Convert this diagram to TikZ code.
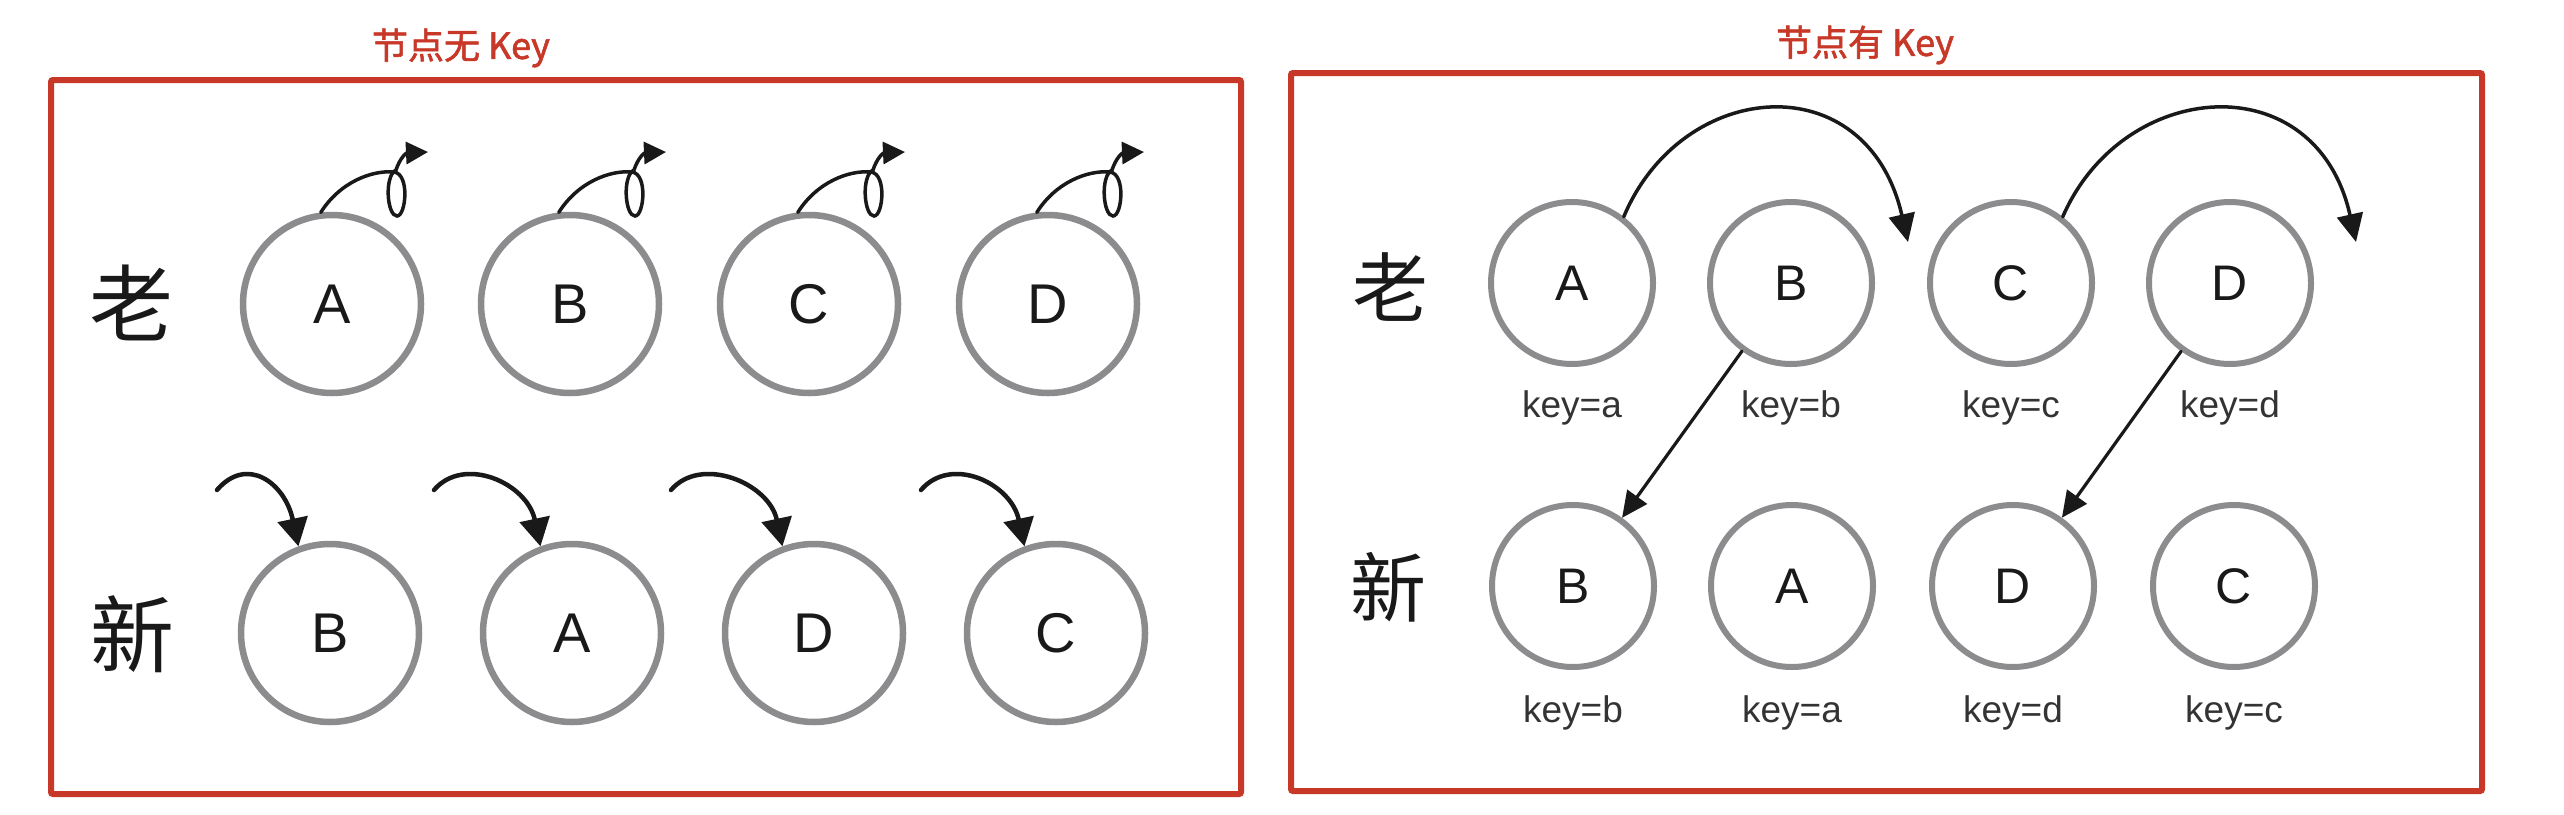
\documentclass[tikz,border=0pt]{standalone}
\usepackage{fontspec}
\setmainfont{Liberation Sans}
\newfontfamily\cjk{Noto Sans CJK SC}
\newfontfamily\cjkbold{Noto Sans CJK SC}[FakeBold=1.6]
\usetikzlibrary{arrows.meta,calc}
\definecolor{boxred}{RGB}{200,56,40}
\definecolor{ringgray}{RGB}{140,140,143}
\definecolor{inkblack}{RGB}{25,25,25}
\begin{document}
\begin{tikzpicture}[x=1pt,y=-1pt,
  frame/.style={draw=boxred,line width=6pt,rounded corners=2pt},
  ttl/.style={text=boxred,font=\cjkbold\fontsize{36}{40}\selectfont,inner sep=0pt},
  bigring/.style={circle,draw=ringgray,line width=6.5pt,minimum size=178pt,inner sep=0pt,text=inkblack,font=\fontsize{56}{60}\selectfont},
  smallring/.style={circle,draw=ringgray,line width=6pt,minimum size=162pt,inner sep=0pt,text=inkblack,font=\fontsize{50}{54}\selectfont},
  bigrow/.style={font=\cjk\fontsize{84}{90}\selectfont,inner sep=0pt,text=inkblack},
  smallrow/.style={font=\cjk\fontsize{76}{80}\selectfont,inner sep=0pt,text=inkblack},
  keylabel/.style={font=\fontsize{37}{40}\selectfont,inner sep=0pt,text=black!80},
  looparrow/.style={draw=inkblack,line width=3.5pt,line cap=round,-{Triangle[length=22pt,width=22pt]}},
  droparrow/.style={draw=inkblack,line width=4.5pt,line cap=round,-{Triangle[length=28pt,width=30pt]}},
  arcarrow/.style={draw=inkblack,line width=3.5pt,line cap=round,-{Triangle[length=28pt,width=26pt]}},
  diagarrow/.style={draw=inkblack,line width=3.2pt,line cap=round,-{Triangle[length=26pt,width=24pt]}}
]
\fill[white] (0,0) rectangle (2564,814);
\useasboundingbox (0,0) rectangle (2564,814);

% ---------- left panel ----------
\node[ttl] (t1) at (461,48) {节点无 Key};
\draw[frame] (51,80) rectangle (1241,794);
\node[bigrow] (old1) at (131,303) {老};
\node[bigrow] (new1) at (132,634) {新};

\node[bigring] (oA) at (332,304) {A};
\node[bigring] (oB) at (570,304) {B};
\node[bigring] (oC) at (809,304) {C};
\node[bigring] (oD) at (1048,304) {D};

\node[bigring] (nB) at (330,633) {B};
\node[bigring] (nA) at (572,633) {A};
\node[bigring] (nD) at (814,633) {D};
\node[bigring] (nC) at (1056,633) {C};

\foreach \n in {oA,oB,oC,oD}{
  \draw[looparrow] (\n.97) .. controls ($(\n)+(8,-122)$) and ($(\n)+(40,-134)$) .. ($(\n)+(62,-132)$)
     .. controls ($(\n)+(78,-130)$) and ($(\n)+(74,-88)$) .. ($(\n)+(65,-88)$)
     .. controls ($(\n)+(55,-88)$) and ($(\n)+(52,-128)$) .. ($(\n)+(64,-134)$)
     .. controls ($(\n)+(68,-146)$) and ($(\n)+(74,-151)$) .. ($(\n)+(96,-152)$);
}
\foreach \n/\s in {nB/-113,nA/-138,nD/-143,nC/-135}{
  \draw[droparrow] ($(\n)+(\s,-143)$) .. controls ($(\n)+(\s+30,-178)$) and ($(\n)+(-45,-150)$) .. (\n.110);
}

% ---------- right panel ----------
\node[ttl] (t2) at (1865,45) {节点有 Key};
\draw[frame] (1291,73) rectangle (2482,791);
\node[smallrow] (old2) at (1390,287) {老};
\node[smallrow] (new2) at (1388,587) {新};

\node[smallring] (rA) at (1572,283) {A};
\node[smallring] (rB) at (1791,283) {B};
\node[smallring] (rC) at (2011,283) {C};
\node[smallring] (rD) at (2230,283) {D};
\node[keylabel] (ka) at (1572,408) {key=a};
\node[keylabel] (kb) at (1791,408) {key=b};
\node[keylabel] (kc) at (2011,408) {key=c};
\node[keylabel] (kd) at (2230,408) {key=d};

\node[smallring] (sB) at (1573,586) {B};
\node[smallring] (sA) at (1792,586) {A};
\node[smallring] (sD) at (2013,586) {D};
\node[smallring] (sC) at (2234,586) {C};
\node[keylabel] (kb2) at (1573,713) {key=b};
\node[keylabel] (ka2) at (1792,713) {key=a};
\node[keylabel] (kd2) at (2013,713) {key=d};
\node[keylabel] (kc2) at (2234,713) {key=c};

\coordinate (endA) at ($(rA)+(336,-41)$);
\coordinate (endC) at ($(rC)+(345,-41)$);
\draw[arcarrow] (rA.52) .. controls ($(rA)+(110,-205)$) and ($(rA)+(295,-220)$) .. (endA);
\draw[arcarrow] (rC.52) .. controls ($(rC)+(112,-205)$) and ($(rC)+(305,-220)$) .. (endC);

\draw[diagarrow] (rB) -- (sB);
\draw[diagarrow] (rD) -- (sD);
\end{tikzpicture}
\end{document}
